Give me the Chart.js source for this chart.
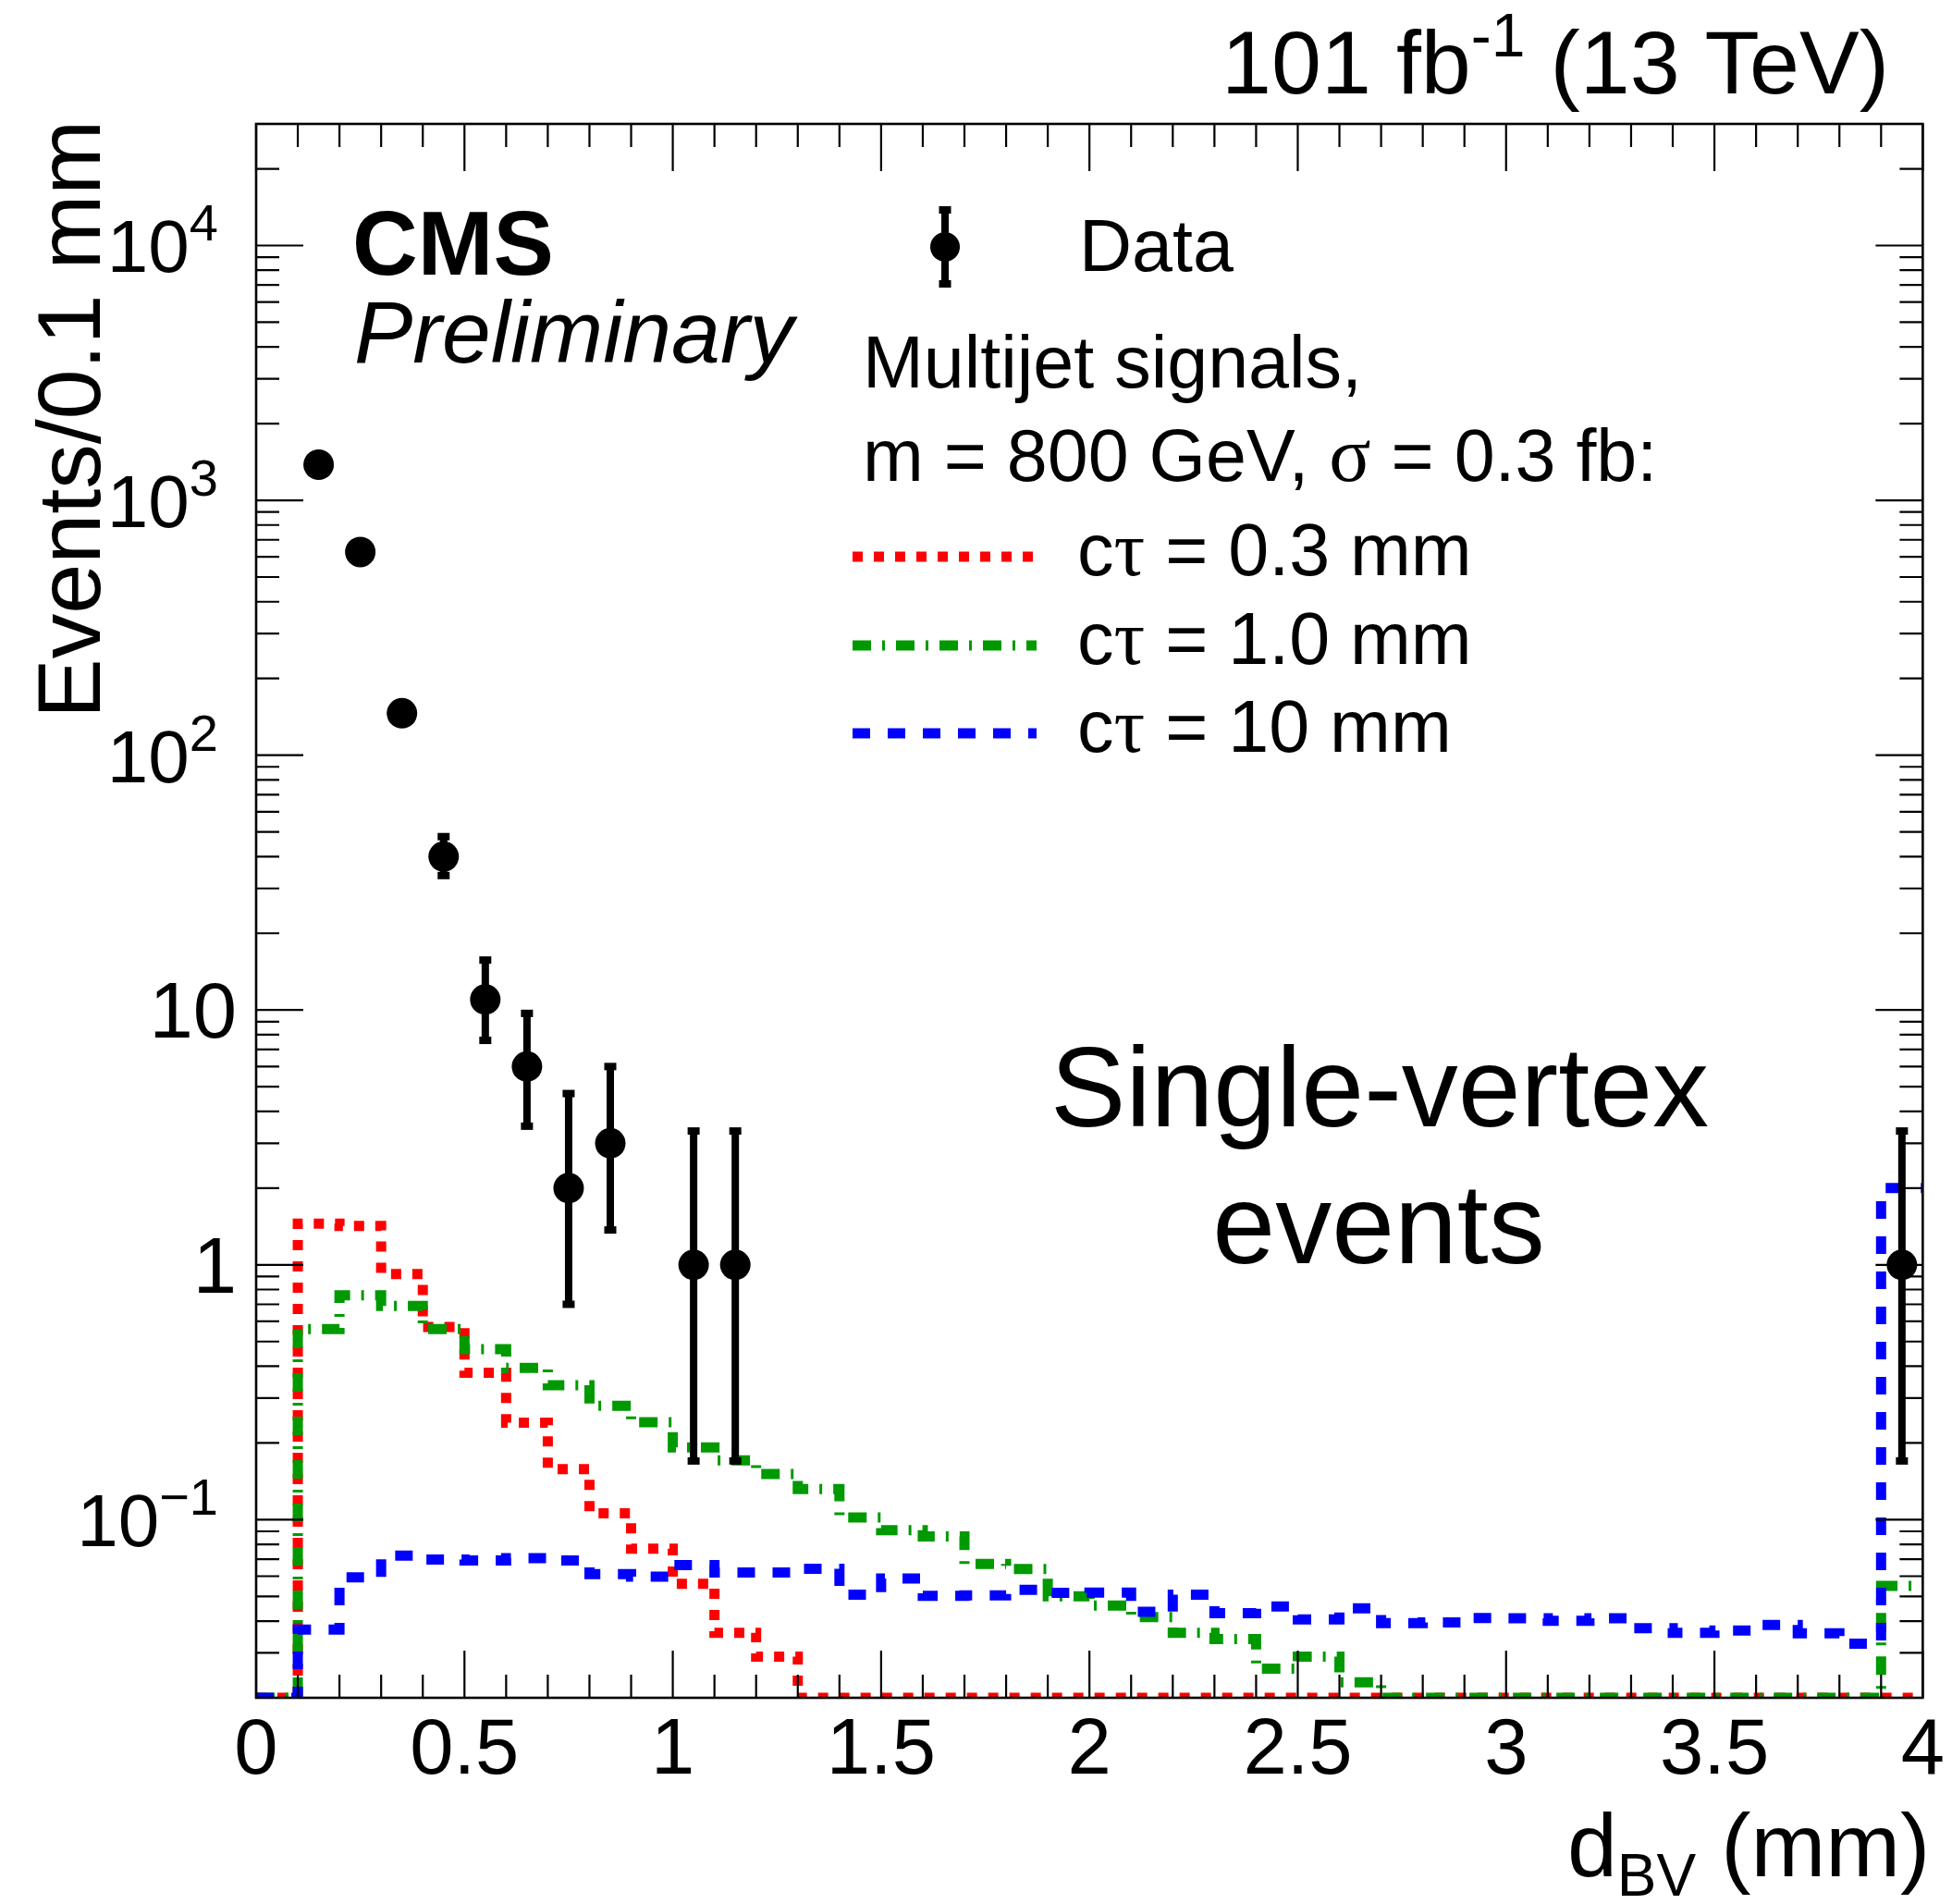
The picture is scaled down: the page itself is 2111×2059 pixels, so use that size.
<!DOCTYPE html>
<html lang="en">
<head>
<meta charset="UTF-8">
<title>dBV single-vertex events</title>
<script src="https://cdn.jsdelivr.net/npm/chart.js"></script>
<style>
  html, body { margin: 0; padding: 0; background: #fff; }
  #wrap { width: 2111px; height: 2059px; position: relative; }
</style>
</head>
<body>
<div id="wrap"><canvas id="chart"></canvas></div>
<script>
// histogram binning: 40 bins of 0.1 mm between 0 and 4 mm
const binLow = 0;
const binWidth = 0.1;
const nBins = 40;

// observed data (bin centres, counts, asymmetric error band)
const dataX  = [0.15, 0.25, 0.35, 0.45, 0.55, 0.65, 0.75, 0.85, 1.05, 1.15, 3.95];
const dataY  = [1380, 627, 146, 40, 11, 6, 2, 3, 1, 1, 1];
const dataLo = [1343, 602, 134, 33.7, 7.6, 3.5, 0.70, 1.37, 0.17, 0.17, 0.17];
const dataHi = [1417, 652, 158, 47.9, 15.7, 9.7, 4.7, 6.0, 3.35, 3.35, 3.35];

// signal expectations, one value per bin
const sigCt03 = [0, 1.45, 1.42, 0.92, 0.57, 0.377, 0.24, 0.158, 0.106, 0.077,
                 0.056, 0.036, 0.029, 0, 0, 0, 0, 0, 0, 0,
                 0, 0, 0, 0, 0, 0, 0, 0, 0, 0,
                 0, 0, 0, 0, 0, 0, 0, 0, 0, 0];
const sigCt10 = [0, 0.56, 0.76, 0.69, 0.56, 0.467, 0.394, 0.337, 0.28, 0.241,
                 0.192, 0.171, 0.151, 0.132, 0.102, 0.091, 0.086, 0.067, 0.064, 0.050,
                 0.046, 0.0415, 0.036, 0.034, 0.026, 0.029, 0.023, 0, 0, 0,
                 0, 0, 0, 0, 0, 0, 0, 0, 0, 0.055];
const sigCt100 = [0, 0.037, 0.0594, 0.0722, 0.0697, 0.0691, 0.0706, 0.0691, 0.0611, 0.0598,
                  0.0663, 0.0621, 0.0621, 0.0642, 0.0508, 0.0588, 0.0502, 0.0505, 0.053, 0.0516,
                  0.0517, 0.0435, 0.0508, 0.043, 0.0456, 0.0406, 0.0449, 0.0393, 0.0395, 0.0411,
                  0.041, 0.0401, 0.041, 0.0375, 0.036, 0.0367, 0.0386, 0.0358, 0.0326, 2.0];

// axes
const xMin = 0, xMax = 4;
const yMin = 0.02, yMax = 30000;
const yTickValues = [0.1, 1, 10, 100, 1000, 10000];
const yTickLabels = [['10', '\u22121'], ['1', ''], ['10', ''], ['10', '2'], ['10', '3'], ['10', '4']];

const sans = '"Liberation Sans", Arial, Helvetica, sans-serif';
const serif = '"Liberation Serif", "Times New Roman", serif';

const RED = '#ff0000', GREEN = '#009900', BLUE = '#0000ff';
const dashRed = [11, 12], dashGreen = [20, 12, 3, 12], dashBlue = [19, 19];

// histogram -> step outline at the bin edges, empty bins sit on the axis floor
function stepPoints(vals) {
    const pts = vals.map((v, i) => ({ x: binLow + i * binWidth, y: v > 0 ? v : yMin }));
    pts.push({ x: binLow + nBins * binWidth, y: pts[pts.length - 1].y });
    return pts;
}

function drawRich(ctx, parts, x, y, align) {
    let total = 0;
    parts.forEach(p => { ctx.font = p.font; p.w = ctx.measureText(p.text).width; total += p.w; });
    let cx = align === 'right' ? x - total : (align === 'center' ? x - total / 2 : x);
    ctx.textAlign = 'left';
    ctx.textBaseline = 'alphabetic';
    parts.forEach(p => {
        ctx.font = p.font;
        ctx.fillText(p.text, cx, y + (p.dy || 0));
        cx += p.w;
    });
}

// error bars on the data points
const errorBars = {
    id: 'errorBars',
    afterDatasetsDraw(chart) {
        const { ctx, scales: { x, y } } = chart;
        ctx.save();
        ctx.fillStyle = '#000';
        dataX.forEach((xv, i) => {
            const px = x.getPixelForValue(xv);
            const pLo = y.getPixelForValue(dataLo[i]);
            const pHi = y.getPixelForValue(dataHi[i]);
            ctx.fillRect(px - 4, pHi, 8, pLo - pHi);
            ctx.fillRect(px - 6.5, pHi - 4, 13, 8);
            ctx.fillRect(px - 6.5, pLo - 4, 13, 8);
        });
        ctx.restore();
    }
};

// frame, inward ticks, labels and all the annotation text
const decorations = {
    id: 'decorations',
    afterDraw(chart) {
        const { ctx, chartArea: a, scales: { x, y } } = chart;
        ctx.save();
        ctx.strokeStyle = '#000';
        ctx.fillStyle = '#000';

        // ticks
        ctx.lineWidth = 2.2;
        ctx.beginPath();
        for (let k = 0; k <= 40; k++) {
            const px = x.getPixelForValue(k / 10);
            const len = k % 5 === 0 ? 51 : 25;
            ctx.moveTo(px, a.bottom); ctx.lineTo(px, a.bottom - len);
            ctx.moveTo(px, a.top); ctx.lineTo(px, a.top + len);
        }
        for (let d = -2; d <= 4; d++) {
            for (let m = 1; m <= 9; m++) {
                const v = m * Math.pow(10, d);
                if (v < yMin * 0.999 || v > yMax * 1.001) continue;
                const py = y.getPixelForValue(v);
                const len = m === 1 ? 51 : 25;
                ctx.moveTo(a.left, py); ctx.lineTo(a.left + len, py);
                ctx.moveTo(a.right, py); ctx.lineTo(a.right - len, py);
            }
        }
        ctx.stroke();

        // frame
        ctx.lineWidth = 2.6;
        ctx.strokeRect(a.left, a.top, a.right - a.left, a.bottom - a.top);

        // y tick labels
        yTickValues.forEach((v, i) => {
            const py = y.getPixelForValue(v);
            const [base, exp] = yTickLabels[i];
            if (exp) {
                drawRich(ctx, [
                    { text: base, font: '80px ' + sans },
                    { text: exp, font: '56px ' + sans, dy: -34 }
                ], 236, py + 29, 'right');
            } else {
                drawRich(ctx, [{ text: base, font: '85px ' + sans }], 256, py + 30, 'right');
            }
        });

        // axis titles
        drawRich(ctx, [
            { text: 'd', font: '97px ' + sans },
            { text: 'BV', font: '64px ' + sans, dy: 21 },
            { text: ' (mm)', font: '97px ' + sans }
        ], a.right + 8, 2029, 'right');

        ctx.save();
        ctx.translate(108, a.top - 4);
        ctx.rotate(-Math.PI / 2);
        ctx.font = '97px ' + sans;
        ctx.textAlign = 'right';
        ctx.textBaseline = 'alphabetic';
        ctx.fillText('Events/0.1 mm', 0, 0);
        ctx.restore();

        // luminosity
        drawRich(ctx, [
            { text: '101 fb', font: '97px ' + sans },
            { text: '-1', font: '66px ' + sans, dy: -40 },
            { text: ' (13 TeV)', font: '97px ' + sans }
        ], 2043, 101, 'right');

        // CMS label
        drawRich(ctx, [{ text: 'CMS', font: 'bold 98px ' + sans }], 381, 297, 'left');
        drawRich(ctx, [{ text: 'Preliminary', font: 'italic 95px ' + sans }], 383, 392, 'left');

        // region label
        drawRich(ctx, [{ text: 'Single-vertex', font: '122px ' + sans }], 1492, 1218, 'center');
        drawRich(ctx, [{ text: 'events', font: '122px ' + sans }], 1491, 1366, 'center');

        // legend
        const lf = '79px ' + sans, gf = '84px ' + serif;
        const mx = 1022, my = 267;
        ctx.fillRect(mx - 4, my - 40, 8, 80);
        ctx.fillRect(mx - 6.5, my - 44, 13, 8);
        ctx.fillRect(mx - 6.5, my + 36, 13, 8);
        ctx.beginPath();
        ctx.arc(mx, my, 16, 0, Math.PI * 2);
        ctx.fill();
        drawRich(ctx, [{ text: 'Data', font: lf }], 1167, 293, 'left');
        drawRich(ctx, [{ text: 'Multijet signals,', font: lf }], 933, 419, 'left');
        drawRich(ctx, [
            { text: 'm = 800 GeV, ', font: lf },
            { text: '\u03c3', font: gf },
            { text: ' = 0.3 fb:', font: lf }
        ], 933, 520, 'left');

        const rows = [
            { color: RED, dash: dashRed, y: 602, label: ' = 0.3 mm' },
            { color: GREEN, dash: dashGreen, y: 698, label: ' = 1.0 mm' },
            { color: BLUE, dash: dashBlue, y: 793, label: ' = 10 mm' }
        ];
        rows.forEach(r => {
            ctx.save();
            ctx.strokeStyle = r.color;
            ctx.lineWidth = 11;
            ctx.lineCap = 'butt';
            ctx.setLineDash(r.dash);
            ctx.beginPath();
            ctx.moveTo(922, r.y);
            ctx.lineTo(1121, r.y);
            ctx.stroke();
            ctx.restore();
            drawRich(ctx, [
                { text: 'c', font: lf },
                { text: '\u03c4', font: gf },
                { text: r.label, font: lf }
            ], 1165, r.y + 20, 'left');
        });

        ctx.restore();
    }
};

function histDataset(label, vals, color, dash, order) {
    return {
        label: label,
        data: stepPoints(vals),
        borderColor: color,
        backgroundColor: color,
        borderWidth: 11,
        borderDash: dash,
        borderCapStyle: 'butt',
        borderJoinStyle: 'miter',
        stepped: 'before',
        pointRadius: 0,
        fill: false,
        order: order
    };
}

new Chart(document.getElementById('chart'), {
    type: 'line',
    data: {
        datasets: [
            {
                type: 'scatter',
                label: 'Data',
                data: dataX.map((xv, i) => ({ x: xv, y: dataY[i] })),
                pointRadius: 16.5,
                pointBackgroundColor: '#000',
                pointBorderWidth: 0,
                showLine: false,
                order: 0
            },
            histDataset('c\u03c4 = 10 mm', sigCt100, BLUE, dashBlue, 1),
            histDataset('c\u03c4 = 1.0 mm', sigCt10, GREEN, dashGreen, 2),
            histDataset('c\u03c4 = 0.3 mm', sigCt03, RED, dashRed, 3)
        ]
    },
    options: {
        responsive: true,
        maintainAspectRatio: false,
        animation: false,
        devicePixelRatio: 1,
        layout: { padding: { left: 0, top: 134, right: 27, bottom: 0 } },
        plugins: {
            legend: { display: false },
            tooltip: { enabled: false }
        },
        scales: {
            x: {
                type: 'linear',
                min: xMin,
                max: xMax,
                grid: { display: false, drawTicks: false },
                border: { display: false },
                ticks: {
                    stepSize: 0.5,
                    autoSkip: false,
                    maxRotation: 0,
                    color: '#000',
                    padding: 8,
                    font: { family: sans, size: 85 },
                    callback: v => String(v)
                },
                afterFit: s => { s.height = 223; }
            },
            y: {
                type: 'logarithmic',
                min: yMin,
                max: yMax,
                grid: { display: false, drawTicks: false },
                border: { display: false },
                ticks: { display: false },
                afterFit: s => { s.width = 277; }
            }
        }
    },
    plugins: [errorBars, decorations]
});
</script>
</body>
</html>
